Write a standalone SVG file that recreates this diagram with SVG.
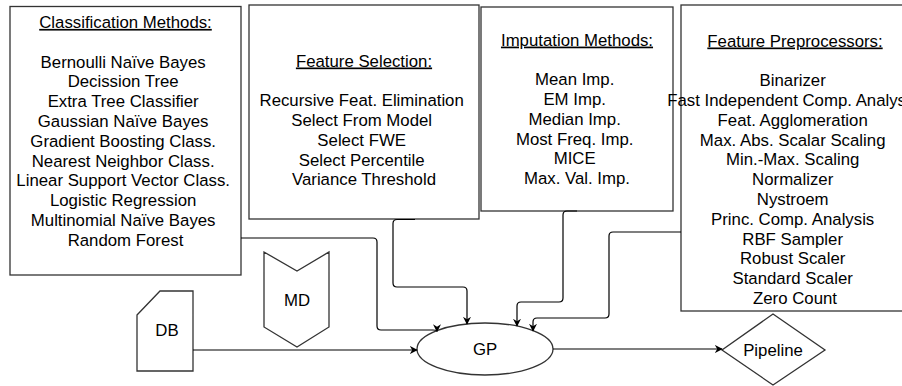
<svg xmlns="http://www.w3.org/2000/svg" width="902" height="386" viewBox="0 0 902 386">
<defs>
<style>
.box{fill:#fff;stroke:#333;stroke-width:1.3}
.shape{fill:#fff;stroke:#333;stroke-width:1.3}
.t{font-family:"Liberation Sans",Arial,sans-serif;font-size:16.8px;fill:#000;text-anchor:middle}
.u{text-decoration:underline}
.edge{fill:none;stroke:#000;stroke-width:1.2}
</style>
<marker id="arr" viewBox="0 0 10 10" refX="9" refY="5" markerWidth="8" markerHeight="8" markerUnits="userSpaceOnUse" orient="auto">
<path d="M0,0 L10,5 L0,10 L3,5 Z" fill="#000"/>
</marker>
</defs>
<rect width="902" height="386" fill="#fff"/>

<g id="classification">
<rect class="box" x="10" y="6.5" width="231" height="268.5"/>
<text class="t u" x="125.5" y="27.9">Classification Methods:</text>
<text class="t" y="67.5">
<tspan x="125.5">Bernoulli Naïve Bayes</tspan>
<tspan x="125.5" dy="19.8">Decission Tree</tspan>
<tspan x="125.5" dy="19.8">Extra Tree Classifier</tspan>
<tspan x="125.5" dy="19.8">Gaussian Naïve Bayes</tspan>
<tspan x="125.5" dy="19.8">Gradient Boosting Class.</tspan>
<tspan x="125.5" dy="19.8">Nearest Neighbor Class.</tspan>
<tspan x="125.5" dy="19.8">Linear Support Vector Class.</tspan>
<tspan x="125.5" dy="19.8">Logistic Regression</tspan>
<tspan x="125.5" dy="19.8">Multinomial Naïve Bayes</tspan>
<tspan x="125.5" dy="19.8">Random Forest</tspan>
</text>
</g>

<g id="feature-selection">
<rect class="box" x="249" y="5" width="230" height="214"/>
<text class="t u" x="364" y="66.5">Feature Selection:</text>
<text class="t" y="106.1">
<tspan x="364">Recursive Feat. Elimination</tspan>
<tspan x="364" dy="19.8">Select From Model</tspan>
<tspan x="364" dy="19.8">Select FWE</tspan>
<tspan x="364" dy="19.8">Select Percentile</tspan>
<tspan x="364" dy="19.8">Variance Threshold</tspan>
</text>
</g>

<g id="imputation">
<rect class="box" x="481" y="7" width="192" height="204"/>
<text class="t u" x="577" y="45.6">Imputation Methods:</text>
<text class="t" y="85.2">
<tspan x="577">Mean Imp.</tspan>
<tspan x="577" dy="19.8">EM Imp.</tspan>
<tspan x="577" dy="19.8">Median Imp.</tspan>
<tspan x="577" dy="19.8">Most Freq. Imp.</tspan>
<tspan x="577" dy="19.8">MICE</tspan>
<tspan x="577" dy="19.8">Max. Val. Imp.</tspan>
</text>
</g>

<g id="preprocessors">
<rect class="box" x="681" y="5" width="240" height="306"/>
<text class="t u" x="795" y="46.5">Feature Preprocessors:</text>
<text class="t" y="86.1">
<tspan x="795">Binarizer</tspan>
<tspan x="795" dy="19.8">Fast Independent Comp. Analysis</tspan>
<tspan x="795" dy="19.8">Feat. Agglomeration</tspan>
<tspan x="795" dy="19.8">Max. Abs. Scalar Scaling</tspan>
<tspan x="795" dy="19.8">Min.-Max. Scaling</tspan>
<tspan x="795" dy="19.8">Normalizer</tspan>
<tspan x="795" dy="19.8">Nystroem</tspan>
<tspan x="795" dy="19.8">Princ. Comp. Analysis</tspan>
<tspan x="795" dy="19.8">RBF Sampler</tspan>
<tspan x="795" dy="19.8">Robust Scaler</tspan>
<tspan x="795" dy="19.8">Standard Scaler</tspan>
<tspan x="795" dy="19.8">Zero Count</tspan>
</text>
</g>

<g id="md">
<polygon class="shape" points="264,252 297,271 329,252 329,327 297,347 264,327"/>
<text class="t" x="297" y="305.5">MD</text>
</g>

<g id="db">
<polygon class="shape" points="137,315 160,291 193,291 193,371 137,371"/>
<text class="t" x="167" y="336">DB</text>
</g>

<g id="gp">
<ellipse class="shape" cx="485" cy="349" rx="68" ry="26"/>
<text class="t" x="485" y="355">GP</text>
</g>

<g id="pipeline">
<polygon class="shape" points="773,314 825,350 773,385 722,350"/>
<text class="t" x="773" y="356">Pipeline</text>
</g>

<g id="connectors">
<path class="edge" d="M241,238 H373 Q377,238 377,242 V326 Q377,330 381,330 H433 Q437,330 437,331.5" marker-end="url(#arr)"/>
<path class="edge" d="M415,219.5 H397 Q393,219.5 393,223.5 V283 Q393,287 397,287 H463 Q467,287 467,291 V324" marker-end="url(#arr)"/>
<path class="edge" d="M577,211 H567 Q563,211 563,215 V298 Q563,302 559,302 H521 Q517,302 517,306 V326" marker-end="url(#arr)"/>
<path class="edge" d="M681,232 H613 Q609,232 609,236 V314 Q609,318 605,318 H537 Q533,318 533,322 V331" marker-end="url(#arr)"/>
<path class="edge" d="M193,350 H417" marker-end="url(#arr)"/>
<path class="edge" d="M553,349 H722" marker-end="url(#arr)"/>
</g>
</svg>
